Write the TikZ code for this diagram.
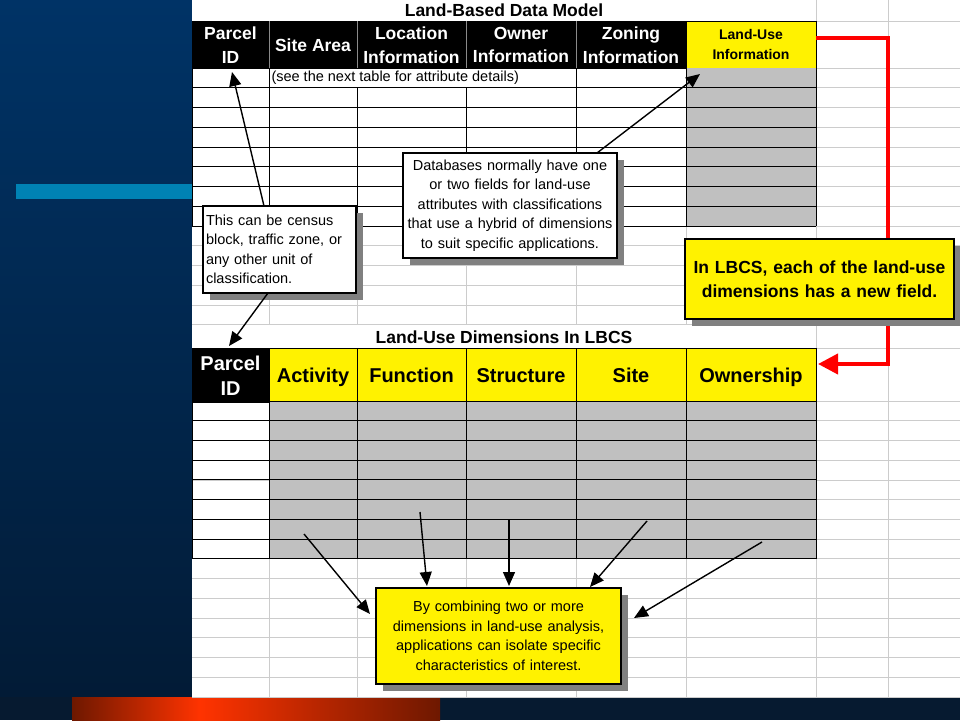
\documentclass[tikz,border=0pt]{standalone}
\usepackage{fontspec}
\setmainfont{Liberation Sans}
\usetikzlibrary{arrows.meta,shadows}
\definecolor{navyTop}{HTML}{003366}
\definecolor{navyBot}{HTML}{021B36}
\definecolor{barBlue}{HTML}{0082B4}
\definecolor{gridGrey}{HTML}{CCCCCC}
\definecolor{cellGrey}{HTML}{C0C0C0}
\definecolor{shadowGrey}{HTML}{808080}
\definecolor{hdrSep}{HTML}{8A8A8A}
\definecolor{redDark}{HTML}{6E1800}
\definecolor{redBright}{HTML}{FF3300}
\definecolor{stripNavy}{HTML}{061A30}
\definecolor{lineRed}{HTML}{FF0000}
\begin{document}
\begin{tikzpicture}[x=1pt,y=-1pt,
  every node/.style={inner sep=0pt, outer sep=0pt},
  gridl/.style={draw=gridGrey, line width=0.8pt},
  tline/.style={draw=black, line width=1pt},
  hcell/.style={fill=black, text=white, align=center, minimum height=47pt,
    font=\fontsize{17.5}{23.5}\selectfont\bfseries},
  bcell/.style={draw=black, line width=1pt, align=center, minimum height=53pt,
    font=\fontsize{20}{25.5}\selectfont\bfseries},
  onel/.style={text height=20pt, text depth=4pt},
  ttl/.style={font=\fontsize{17.5}{21}\selectfont\bfseries},
  shbox/.style={draw=black, line width=1.5pt,
    general shadow={fill=shadowGrey, shadow xshift=7pt, shadow yshift=-7pt}},
  smalltxt/.style={font=\fontsize{14.5}{19.5}\selectfont},
  arr/.style={draw=black, line width=1.4pt, -{Triangle[length=14pt,width=12pt]}},
  redarr/.style={draw=lineRed, line width=4pt, -{Triangle[length=20pt,width=20pt]}}
]
\useasboundingbox (0,0) rectangle (960,720);
% background
\shade[top color=navyTop, bottom color=navyBot] (0,0) rectangle (192,697);
\fill[barBlue] (16,184) rectangle (192,199);
\fill[white] (192,0) rectangle (960,697);
\fill[stripNavy] (0,697) rectangle (960,720);
\shade[left color=redDark, right color=redBright] (72,697) rectangle (200,720);
\shade[left color=redBright, right color=redDark] (200,697) rectangle (440,720);
% light grid
\foreach \x in {269,357,466,576,686,816,888} \draw[gridl] (\x,0) -- (\x,697);
\draw[gridl] (192,21) -- (960,21);
\foreach \k in {0,...,13} \draw[gridl] (192,{68+19.75*\k}) -- (960,{68+19.75*\k});
\draw[gridl] (192,348) -- (960,348);
\foreach \k in {0,...,15} \draw[gridl] (192,{401+19.733*\k}) -- (960,{401+19.733*\k});
\fill[white] (192.5,0) rectangle (815.5,20.6);
\fill[white] (192.5,325.3) rectangle (815.5,347.6);
\fill[white] (269.5,68.5) rectangle (575.5,87.5);
% titles
\node[ttl] (t1) at (504,10.5) {Land-Based Data Model};
\node[ttl] (t2) at (504,337) {Land-Use Dimensions In LBCS};
% top table header
\node[hcell, minimum width=77pt] (hp) at (230.5,45) {Parcel\\ID};
\node[hcell, minimum width=88pt] (hs) at (313,45) {Site Area};
\node[hcell, minimum width=109pt] (hl) at (411.5,45) {Location\\Information};
\node[hcell, minimum width=110pt] (ho) at (521,45) {Owner\\Information};
\node[hcell, minimum width=110pt] (hz) at (631,45) {Zoning\\Information};
\node[draw=black, line width=1pt, fill=yellow, minimum width=130pt, minimum height=47pt,
  align=center, font=\fontsize{14}{20}\selectfont\bfseries] (lu) at (751,44.5) {Land-Use\\Information};
\fill[black] (192,21) rectangle (686,21.8);
\foreach \x in {269,357,466,576} \draw[draw=hdrSep, line width=1pt] (\x,21) -- (\x,68);
% top table body
\fill[cellGrey] (686,68) rectangle (816,226);
\foreach \k in {1,...,8} \draw[tline] (192,{68+19.75*\k}) -- (816,{68+19.75*\k});
\draw[tline] (192.5,68) -- (192.5,226);
\draw[tline] (269,68) -- (269,226);
\draw[tline] (357,88) -- (357,226);
\draw[tline] (466,88) -- (466,226);
\draw[tline] (576,68) -- (576,226);
\draw[tline] (686,68) -- (686,226);
\draw[tline] (816,68) -- (816,226);
\node[anchor=west, smalltxt] (see) at (271.5,78) {(see the next table for attribute details)};
% bottom table
\fill[cellGrey] (269,401) rectangle (816,558.9);
\node[bcell, fill=black, text=white, minimum width=77pt] (bp) at (230.5,375.5) {Parcel\\ID};
\node[bcell, onel, fill=yellow, minimum width=88pt] (ba) at (313,374.5) {Activity};
\node[bcell, onel, fill=yellow, minimum width=109pt] (bf) at (411.5,374.5) {Function};
\node[bcell, onel, fill=yellow, minimum width=110pt] (bs) at (521,374.5) {Structure};
\node[bcell, onel, fill=yellow, minimum width=110pt] (bsi) at (631,374.5) {Site};
\node[bcell, onel, fill=yellow, minimum width=130pt] (own) at (751,374.5) {Ownership};
\foreach \k in {0,...,8} \draw[tline] (192,{401+19.733*\k}) -- (816,{401+19.733*\k});
\draw[tline] (192,348) -- (816,348);
\foreach \x in {192.5,269,357,466,576,686,816} \draw[tline] (\x,348) -- (\x,558.9);
% red connector
\draw[redarr] ([yshift=6.5pt]lu.east) -- ++(72,0) -- ++(0,326) -- ([xshift=2pt,yshift=10.5pt]own.east);
% callouts
\node[shbox, fill=white, minimum width=153pt, minimum height=87pt, text width=147pt,
  inner xsep=3pt, align=left, smalltxt] (cb1) at (279.5,249.5)
  {This can be census\\block, traffic zone, or\\any other unit of\\classification.};
\node[shbox, fill=white, minimum width=214pt, minimum height=105pt, text width=210pt,
  inner xsep=2pt, align=center, smalltxt] (cb2) at (510,205.5)
  {Databases normally have one\\or two fields for land-use\\attributes with classifications\\that use a hybrid of dimensions\\to suit specific applications.};
\node[shbox, fill=yellow, minimum width=269pt, minimum height=80pt, text width=265pt,
  inner xsep=2pt, align=center, font=\fontsize{17.5}{23.5}\selectfont\bfseries] (cb3) at (819.5,279)
  {In LBCS, each of the land-use\\dimensions has a new field.};
\node[shbox, fill=yellow, minimum width=245pt, minimum height=96pt, text width=241pt,
  inner xsep=2pt, align=center, smalltxt] (cb4) at (498.5,636)
  {By combining two or more\\dimensions in land-use analysis,\\applications can isolate specific\\characteristics of interest.};
% black arrows
\coordinate (tipA) at (232,72);
\coordinate (tipB) at (229,346);
\coordinate (tipC) at (700,74);
\draw[arr] ([xshift=61pt]cb1.north west) -- (tipA);
\draw[arr] ([xshift=65pt]cb1.south west) -- (tipB);
\draw[arr] ([xshift=-20pt]cb2.north east) -- (tipC);
\coordinate (s1) at (304,534);
\coordinate (s2) at (420,512);
\coordinate (s3) at (509,520);
\coordinate (s4) at (647,521);
\coordinate (s5) at (762,542);
\draw[arr] (s1) -- ([xshift=-6pt,yshift=-26pt]cb4.north west);
\draw[arr] (s2) -- ([xshift=51pt,yshift=2pt]cb4.north west);
\draw[arr] (s3) -- ([xshift=133pt,yshift=2pt]cb4.north west);
\draw[arr] (s4) -- ([xshift=214pt,yshift=1pt]cb4.north west);
\draw[arr] (s5) -- ([xshift=13pt,yshift=-30pt]cb4.north east);
\end{tikzpicture}
\end{document}
